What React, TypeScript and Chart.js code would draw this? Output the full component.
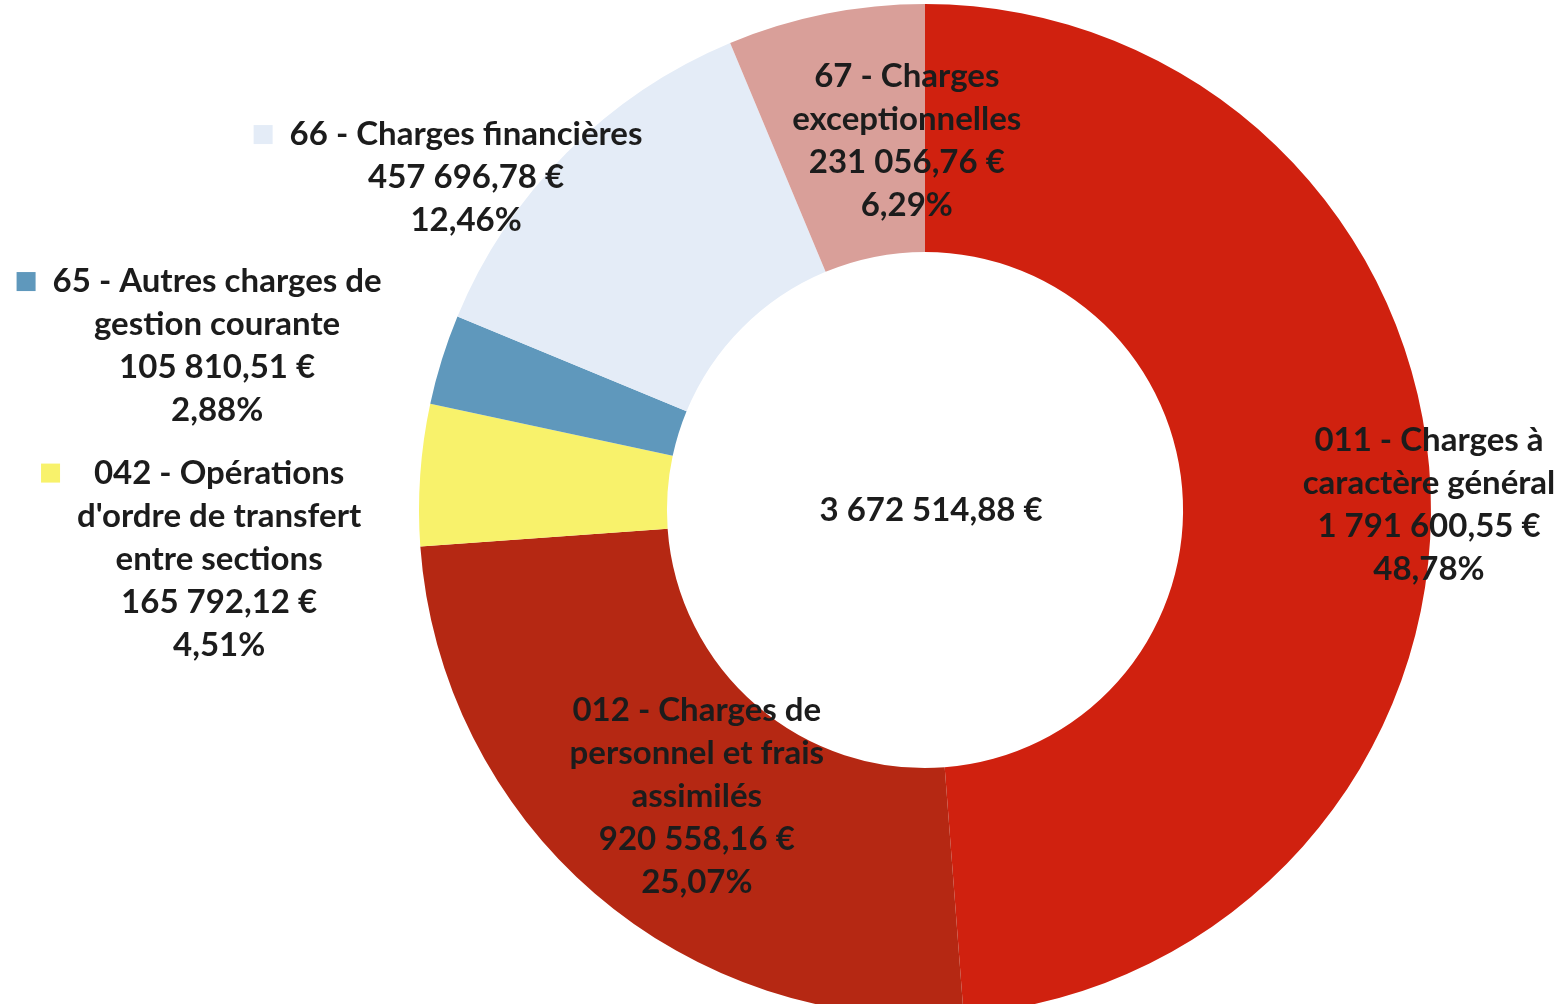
import React, { useEffect, useRef } from "react";
import { Chart, registerables } from "chart.js";

Chart.register(...registerables);

// ---- Data ----
const categoryLines: string[][] = [
  ["011 - Charges à", "caractère général"],
  ["012 - Charges de", "personnel et frais", "assimilés"],
  ["042 - Opérations", "d'ordre de transfert", "entre sections"],
  ["65 - Autres charges de", "gestion courante"],
  ["66 - Charges financières"],
  ["67 - Charges", "exceptionnelles"],
];
const amounts: number[] = [1791600.55, 920558.16, 165792.12, 105810.51, 457696.78, 231056.76];

// ---- Styles ----
const sliceColors = ["#D0210F", "#B52813", "#F8F26B", "#5F98BC", "#E4ECF7", "#D99F99"];
// label block centres, expressed in multiples of the outer radius from the doughnut centre
const labelPlacement = [
  { dx: 0.996, dy: -0.011, key: false },
  { dx: -0.451, dy: 0.565, key: false },
  { dx: -1.395, dy: 0.097, key: true },
  { dx: -1.399, dy: -0.324, key: true },
  { dx: -0.907, dy: -0.657, key: true },
  { dx: -0.036, dy: -0.73, key: false },
];
const FONT = "bold 33px Lato, 'Open Sans', sans-serif";
const LINE_H = 43;

function fmtEuro(v: number): string {
  const [i, d] = v.toFixed(2).split(".");
  const g = i.replace(/\B(?=(\d{3})+(?!\d))/g, " ");
  return `${g},${d} €`;
}
function fmtPct(v: number): string {
  return v.toFixed(2).replace(".", ",") + "%";
}

const labelPlugin = {
  id: "sliceLabels",
  afterDraw(chart: any) {
    const meta = chart.getDatasetMeta(0);
    if (!meta || !meta.data.length) return;
    const arc0: any = meta.data[0];
    const cx = arc0.x;
    const cy = arc0.y;
    const R = arc0.outerRadius;
    const ctx: CanvasRenderingContext2D = chart.ctx;
    const data: number[] = chart.data.datasets[0].data;
    const colors: string[] = chart.data.datasets[0].backgroundColor;
    const total = data.reduce((a, b) => a + b, 0);
    ctx.save();
    ctx.font = FONT;
    ctx.fillStyle = "#1c1c1c";
    ctx.textAlign = "center";
    ctx.textBaseline = "middle";
    data.forEach((v, idx) => {
      const lines = [...categoryLines[idx], fmtEuro(v), fmtPct((v / total) * 100)];
      const p = labelPlacement[idx];
      const x = cx + p.dx * R;
      const y = cy + p.dy * R;
      const n = lines.length;
      let maxW = 0;
      lines.forEach((l) => (maxW = Math.max(maxW, ctx.measureText(l).width)));
      lines.forEach((l, i) => {
        ctx.fillText(l, x, y + (i - (n - 1) / 2) * LINE_H);
      });
      if (p.key) {
        const firstY = y - ((n - 1) / 2) * LINE_H;
        const size = 19;
        const left = x - maxW / 2 - 17 - size;
        ctx.fillStyle = colors[idx];
        ctx.fillRect(left, firstY - size / 2, size, size);
        ctx.fillStyle = "#1c1c1c";
      }
    });
    ctx.fillText(fmtEuro(total), cx + 0.012 * R, cy);
    ctx.restore();
  },
};

export default function App() {
  const ref = useRef<HTMLCanvasElement | null>(null);
  useEffect(() => {
    if (!ref.current) return;
    const chart = new Chart(ref.current, {
      type: "doughnut",
      data: {
        labels: categoryLines.map((l) => l.join(" ")),
        datasets: [
          {
            data: amounts,
            backgroundColor: sliceColors,
            borderWidth: 0,
            hoverOffset: 0,
          },
        ],
      },
      options: {
        animation: false,
        responsive: false,
        devicePixelRatio: 1,
        cutout: "51%",
        layout: { padding: { top: 4, bottom: 2, left: 418, right: 135 } },
        plugins: {
          legend: { display: false },
          tooltip: { enabled: false },
        },
      },
      plugins: [labelPlugin],
    } as any);
    return () => chart.destroy();
  }, []);
  return (
    <div
      style={{
        position: "fixed",
        left: 0,
        top: 0,
        width: 1567,
        height: 1004,
        overflow: "hidden",
        background: "#ffffff",
      }}
    >
      <canvas ref={ref} width={1567} height={1018} style={{ display: "block" }} />
    </div>
  );
}
